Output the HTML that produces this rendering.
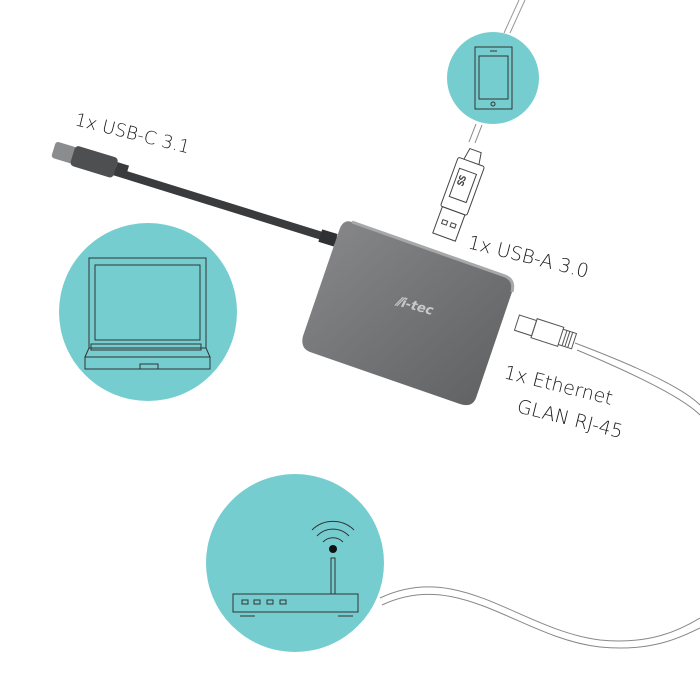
<!DOCTYPE html>
<html><head><meta charset="utf-8"><style>
html,body{margin:0;padding:0;background:#fff}
svg{display:block}
text{font-family:"DejaVu Sans","Liberation Sans",sans-serif;fill:#1a1a1a;font-weight:300}
</style></head><body>
<svg width="700" height="700" viewBox="0 0 700 700" xmlns="http://www.w3.org/2000/svg">
<defs>
<linearGradient id="hub" x1="0" y1="0" x2="1" y2="1">
<stop offset="0" stop-color="#8a8a8c"/><stop offset="0.5" stop-color="#737476"/><stop offset="1" stop-color="#5e5f61"/>
</linearGradient>
</defs>
<circle cx="148" cy="312" r="89" fill="#76cdd0"/>
<circle cx="493" cy="78" r="46" fill="#76cdd0"/>
<circle cx="295" cy="563" r="89" fill="#76cdd0"/>

<path d="M504 33 L519 0 M510 33 L525 0" stroke="#999" stroke-width="1" fill="none"/>
<path d="M476 124 L469 142 M482 125 L475 143" stroke="#888" fill="none"/>
<rect x="475" y="47" width="37" height="62" fill="none" stroke="#333" stroke-width="1"/>
<rect x="479" y="56" width="29" height="43" fill="none" stroke="#333" stroke-width="1"/>
<circle cx="493" cy="104" r="2" fill="none" stroke="#333"/>
<line x1="490" y1="51" x2="497" y2="51" stroke="#333"/>

<g transform="translate(455,207) rotate(20)" fill="none" stroke="#444" stroke-width="1">
<rect x="-14" y="-48" width="28" height="52" rx="2"/>
<rect x="-9" y="-38" width="18" height="30"/>
<rect x="-12" y="4" width="24" height="28"/>
<rect x="-7" y="16" width="5" height="4"/><rect x="2" y="16" width="5" height="4"/>
<path d="M-8 -48 L-6 -60 L6 -60 L8 -48"/>
<text x="0" y="-22" font-size="8" transform="rotate(-90 0 -22)" style="fill:#333">SS</text>
</g>

<path d="M110 170 L335 240" stroke="#3a3b3d" stroke-width="8" stroke-linecap="round"/>
<g transform="translate(90,160) rotate(17)">
<rect x="-38" y="-8" width="22" height="17" rx="3" fill="#8b8c8e"/>
<rect x="-18" y="-10" width="45" height="21" rx="4" fill="#4e4f51"/>
<rect x="27" y="-6" width="12" height="12" fill="#3a3b3d"/>
</g>
<g transform="translate(330,238) rotate(17)"><rect x="-10" y="-6" width="16" height="13" fill="#303133"/></g>

<path d="M352 222 L505 276 Q515 280 512 292 L476 398 Q472 408 460 404 L310 352 Q300 348 303 336 L340 228 Q344 219 352 222 Z" fill="url(#hub)"/>
<path d="M352 222 L505 276 Q515 280 512 292" stroke="#a7a8aa" stroke-width="3" fill="none"/>
<text x="395" y="305" font-size="13" transform="rotate(15 395 305)" style="fill:#c9c9cb;font-style:italic;font-weight:bold">⫽i-tec</text>

<g transform="translate(555,335) rotate(18)" fill="none" stroke="#555" stroke-width="1">
<rect x="-40" y="-8" width="18" height="16"/>
<rect x="-22" y="-10" width="28" height="20"/>
<path d="M6 -8 L20 -8 L20 8 L6 8 M10 -8 V8 M13 -8 V8 M16 -8 V8"/>
</g>
<path d="M575 343 C620 360 680 385 700 405" stroke="#888" stroke-width="1" fill="none"/>
<path d="M577 350 C620 368 680 395 700 415" stroke="#888" stroke-width="1" fill="none"/>
<path d="M380 598 C460 560 520 630 600 640 C650 645 680 630 700 618" stroke="#888" stroke-width="1" fill="none"/>
<path d="M382 605 C460 568 520 638 600 647 C650 652 680 638 700 628" stroke="#888" stroke-width="1" fill="none"/>

<g fill="none" stroke="#333" stroke-width="1">
<rect x="89" y="258" width="117" height="90"/>
<rect x="95" y="265" width="105" height="75"/>
<path d="M89 348 L85 357 L210 357 L206 348"/>
<rect x="85" y="357" width="125" height="12"/>
<rect x="91" y="344" width="110" height="6"/>
<rect x="140" y="364" width="18" height="5"/>
</g>

<g fill="none" stroke="#333" stroke-width="1">
<rect x="233" y="594" width="125" height="18"/>
<rect x="242" y="600" width="6" height="4"/><rect x="254" y="600" width="6" height="4"/>
<rect x="267" y="600" width="6" height="4"/><rect x="280" y="600" width="6" height="4"/>
<line x1="240" y1="616" x2="255" y2="616"/><line x1="338" y1="616" x2="353" y2="616"/>
<rect x="331" y="558" width="4" height="36"/>
<path d="M323 542 A14 14 0 0 1 343 542"/>
<path d="M317 536 A22 22 0 0 1 349 536"/>
<path d="M312 530 A30 30 0 0 1 354 530"/>
</g>
<circle cx="333" cy="549" r="4" fill="#111"/>

<text x="74" y="125" font-size="18" transform="rotate(14 74 125)">1x USB-C 3.1</text>
<text x="467" y="248" font-size="19" transform="rotate(14 467 248)">1x USB-A 3.0</text>
<text x="503" y="378" font-size="19" transform="rotate(14 503 378)">1x Ethernet</text>
<text x="516" y="412" font-size="19" transform="rotate(14 516 412)">GLAN RJ-45</text>
</svg>
</body></html>
